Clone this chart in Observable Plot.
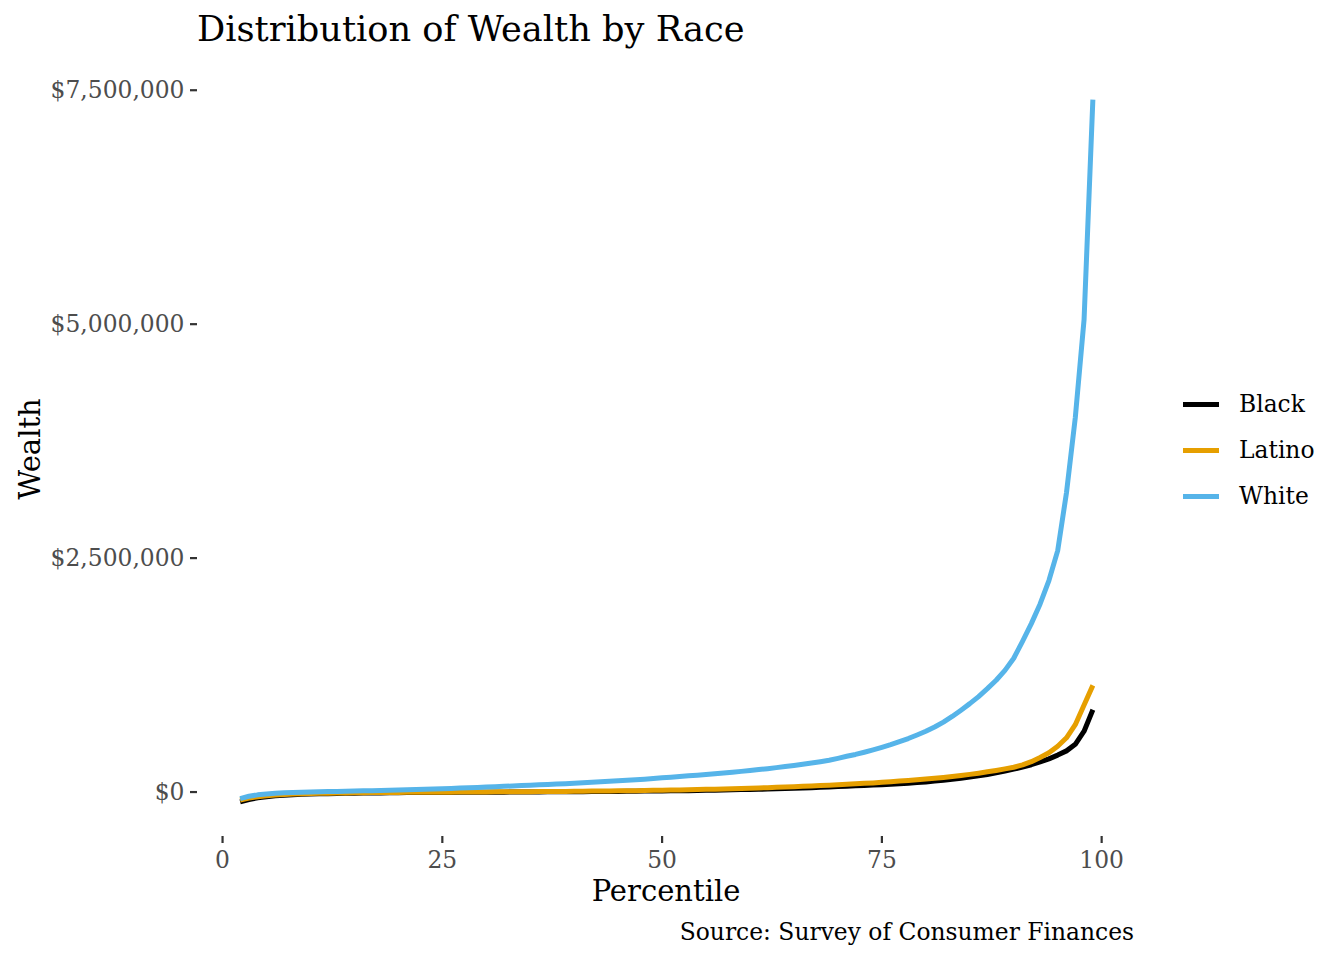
<!DOCTYPE html>
<html>
<head>
<meta charset="utf-8">
<script src="https://cdn.jsdelivr.net/npm/d3@7"></script>
<script src="https://cdn.jsdelivr.net/npm/@observablehq/plot@0.6"></script>
<style>
  body { margin: 0; background: #fff; }
  #wrap { position: relative; width: 1344px; height: 960px; font-family: 'DejaVu Serif', serif; background: #fff; }
  #wrap > div.txt { position: absolute; line-height: 1; white-space: nowrap; color: #000; }
  .leg { position: absolute; left: 1183px; width: 36px; height: 5px; }
  .legtxt { position: absolute; left: 1239px; font-size: 23.4px; line-height: 1; white-space: nowrap; }
</style>
</head>
<body>
<div id="wrap">
  <div id="chart"></div>
  <div class="txt" style="left:197px; top:10.5px; font-size:35.2px;">Distribution of Wealth by Race</div>
  <div class="txt" style="left:666px; top:876.5px; font-size:29px; transform:translateX(-50%);">Percentile</div>
  <div class="txt" style="left:30px; top:449px; font-size:29px; transform:translate(-50%,-50%) rotate(-90deg);">Wealth</div>
  <div class="txt" style="right:210px; top:920.5px; font-size:23.4px;">Source: Survey of Consumer Finances</div>
  <div id="legend"></div>
</div>
<script>
// Percentile (x) values
const percentile = [2,3,4,5,6,7,8,9,10,11,12,13,14,15,16,17,18,19,20,21,22,23,24,25,26,27,28,29,30,31,32,33,34,35,36,37,38,39,40,41,42,43,44,45,46,47,48,49,50,51,52,53,54,55,56,57,58,59,60,61,62,63,64,65,66,67,68,69,70,71,72,73,74,75,76,77,78,79,80,81,82,83,84,85,86,87,88,89,90,91,92,93,94,95,96,97,98,99];

// Wealth in thousands of dollars, percentiles 2..99
const blackWealth = [-105,-80,-62,-50,-40,-33,-28,-24,-21,
  -19,-17,-15,-13,-12,-11,-10,-9,-8,-7,
  -6,-6,-5,-5,-4,-4,-3,-3,-2,-2,
  -1,-1,0,0,1,1,2,2,3,3,
  4,5,5,6,7,8,9,10,11,12,
  13,14,15,17,18,20,22,24,26,28,
  30,32,34,37,40,43,46,50,54,58,
  62,66,70,74,79,84,89,95,101,108,
  118,127,137,148,160,173,188,205,224,245,
  268,292,322,355,395,440,510,650,880];

const latinoWealth = [-85,-65,-50,-40,-32,-26,-22,-19,-16,
  -14,-12,-10,-9,-8,-7,-6,-5,-4,-4,
  -3,-3,-2,-2,-1,-1,0,0,1,1,
  2,2,3,3,4,5,5,6,7,8,
  9,10,11,12,13,14,15,16,18,19,
  21,23,25,27,29,31,33,35,38,41,
  44,47,50,53,57,61,65,69,73,78,
  83,88,93,98,104,110,117,124,131,139,
  147,156,166,177,189,202,216,231,248,265,
  290,325,370,420,490,580,720,930,1140];

const whiteWealth = [-70,-45,-30,-20,-13,-8,-4,-1,1,
  3,5,7,9,11,13,15,17,20,22,
  25,27,30,33,36,39,42,46,49,53,
  57,61,65,69,73,77,81,86,90,95,
  100,105,110,115,120,126,132,138,145,152,
  159,166,173,180,188,196,204,212,221,230,
  240,250,261,272,284,297,310,324,340,360,
  382,402,425,450,477,506,538,572,610,650,
  695,748,808,875,945,1020,1105,1195,1300,1430,
  1610,1800,2010,2260,2580,3200,4000,5050,7400];

const groups = ["Black", "Latino", "White"];
const groupColors = ["#000000", "#E69F00", "#56B4E9"];
const xTicks = [0, 25, 50, 75, 100];
const yTicks = [0, 2500000, 5000000, 7500000];

const seriesList = [blackWealth, latinoWealth, whiteWealth];
const rows = groups.flatMap((g, i) =>
  percentile.map((p, j) => ({group: g, percentile: p, wealth: seriesList[i][j] * 1000}))
);

const fmt = d3.format(",");
const chart = Plot.plot({
  width: 1344,
  height: 960,
  marginLeft: 197,
  marginRight: 209,
  marginTop: 64,
  marginBottom: 124,
  style: {fontFamily: "'DejaVu Serif', serif", fontSize: "23.4px", background: "transparent", overflow: "visible"},
  x: {domain: [-2.85, 103.85]},
  y: {domain: [-475000, 7775000]},
  color: {domain: groups, range: groupColors},
  marks: [
    Plot.axisX(xTicks, {tickSize: 7, tickPadding: 8, strokeWidth: 2.2, stroke: "#333333", fill: "#4D4D4D", label: null, fontSize: 23.4}),
    Plot.axisY(yTicks, {tickSize: 7, tickPadding: 6, strokeWidth: 2.2, stroke: "#333333", fill: "#4D4D4D", label: null, fontSize: 23.4,
      tickFormat: d => "$" + fmt(d)}),
    Plot.line(rows, {x: "percentile", y: "wealth", z: "group", stroke: "group", strokeWidth: 5, curve: "linear", strokeLinecap: "butt", strokeLinejoin: "round"})
  ]
});
document.getElementById("chart").appendChild(chart);

const legend = document.getElementById("legend");
const legendY = [404, 450, 496];
groups.forEach((g, i) => {
  const line = document.createElement("div");
  line.className = "leg";
  line.style.top = (legendY[i] - 2.5) + "px";
  line.style.background = groupColors[i];
  legend.appendChild(line);
  const t = document.createElement("div");
  t.className = "legtxt";
  t.style.top = (legendY[i] + 8.5 - 0.846 * 23.4) + "px";
  t.textContent = g;
  legend.appendChild(t);
});
</script>
</body>
</html>
